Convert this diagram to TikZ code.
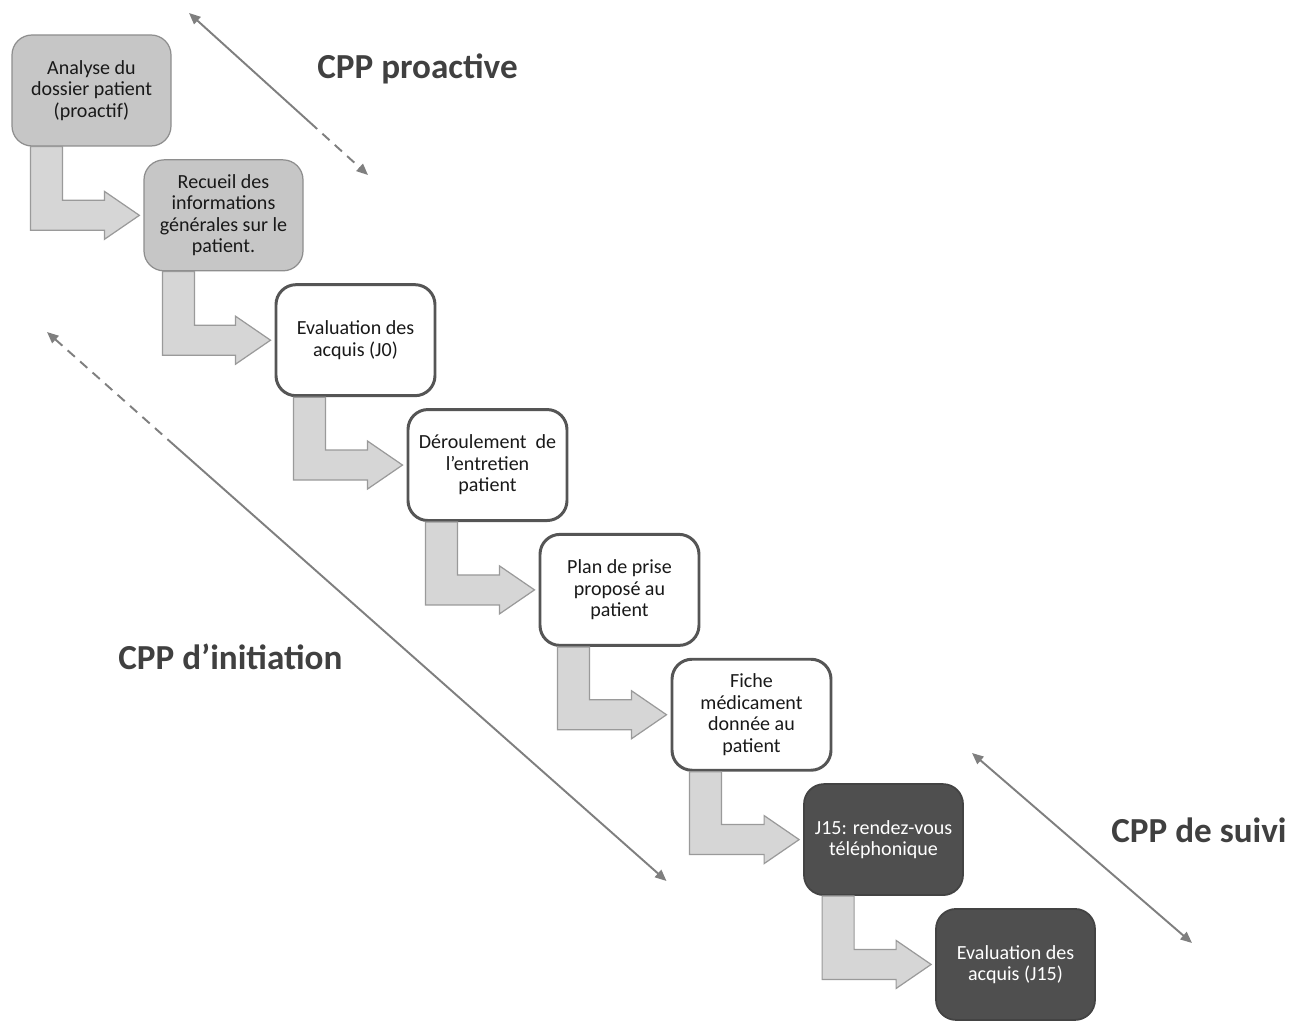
\documentclass[tikz,border=0pt]{standalone}
\usepackage{fontspec}
\setmainfont{Carlito}
\usetikzlibrary{arrows.meta,positioning,calc}
\definecolor{boxgray}{HTML}{C6C6C6}
\definecolor{boxline}{HTML}{8E8E8E}
\definecolor{darkline}{HTML}{555555}
\definecolor{darkfill}{HTML}{4F4F4F}
\definecolor{arrowfill}{HTML}{D6D6D6}
\definecolor{arrowline}{HTML}{9A9A9A}
\definecolor{spanline}{HTML}{7F7F7F}
\definecolor{labeltext}{HTML}{404040}
\tikzset{
  etape/.style={rectangle,rounded corners=0.4cm,minimum width=3.18cm,minimum height=2.22cm,
    align=center,inner sep=2pt,font=\fontsize{11.4}{12.2}\selectfont,text=black!90},
  proactif/.style={etape,fill=boxgray,draw=boxline,line width=0.7pt},
  initiation/.style={etape,fill=white,draw=darkline,line width=1.7pt},
  suivi/.style={etape,fill=darkfill,draw=darkfill!85!black,line width=1pt,text=white},
  fleche/.style={fill=arrowfill,draw=arrowline,line width=0.7pt},
  duree/.style={draw=spanline,line width=1.1pt},
  titre/.style={anchor=base west,inner sep=0pt,font=\bfseries\fontsize{20}{24}\selectfont,text=labeltext}
}
% bent block arrow from under one step to the next step
\newcommand{\bentarrow}[2]{%
  \draw[fleche] let \p1=(#1.south west), \p2=(#2.west) in
    (\x1+0.38cm,\y1) -- (\x1+1.02cm,\y1) -- (\x1+1.02cm,\y2+0.3cm)
    -- (\x2-0.78cm,\y2+0.3cm) -- (\x2-0.78cm,\y2+0.48cm) -- (\x2-0.08cm,\y2)
    -- (\x2-0.78cm,\y2-0.48cm) -- (\x2-0.78cm,\y2-0.3cm) -- (\x1+0.38cm,\y2-0.3cm) -- cycle;}

\begin{document}
\begin{tikzpicture}[node distance=2.497cm and 2.64cm,on grid]
   \useasboundingbox (0,0) rectangle (26.08,-20.42);
   \node[proactif] (s_1) at (1.83,-1.81) {Analyse du\\dossier patient\\(proactif)};
   \node[proactif] (s_2) [below right=of s_1] {Recueil des\\informations\\générales sur le\\patient.};
   \node[initiation] (s_3) [below right=of s_2] {Evaluation des\\acquis (J0)};
   \node[initiation] (s_4) [below right=of s_3] {Déroulement\ \ de\\l’entretien\\patient};
   \node[initiation] (s_5) [below right=of s_4] {Plan de prise\\proposé au\\patient};
   \node[initiation] (s_6) [below right=of s_5] {Fiche\\médicament\\donnée au\\patient};
   \node[suivi] (s_7) [below right=of s_6] {J15: rendez-vous\\téléphonique};
   \node[suivi] (s_8) [below right=of s_7] {Evaluation des\\acquis (J15)};
   \foreach \a/\b in {1/2,2/3,3/4,4/5,5/6,6/7,7/8}
     \bentarrow{s_\a}{s_\b};

   % phases
   \coordinate (pro_a) at (3.78,-0.26);
   \coordinate (pro_m) at (6.20,-2.45);
   \coordinate (pro_b) at (7.36,-3.50);
   \coordinate (ini_a) at (0.94,-6.64);
   \coordinate (ini_m) at (3.40,-8.83);
   \coordinate (ini_b) at (13.33,-17.62);
   \coordinate (sui_a) at (19.44,-15.06);
   \coordinate (sui_b) at (23.84,-18.86);
   \draw[duree,{Triangle[length=6.5pt,width=5.5pt]}-] (pro_a) -- (pro_m);
   \draw[duree,dash pattern=on 5.5pt off 4pt,-{Triangle[length=6.5pt,width=5.5pt]}] (pro_m) -- (pro_b);
   \draw[duree,dash pattern=on 5.5pt off 4pt,{Triangle[length=6.5pt,width=5.5pt]}-] (ini_a) -- (ini_m);
   \draw[duree,-{Triangle[length=6.5pt,width=5.5pt]}] (ini_m) -- (ini_b);
   \draw[duree,{Triangle[length=6.5pt,width=5.5pt]}-{Triangle[length=6.5pt,width=5.5pt]}] (sui_a) -- (sui_b);

   \node[titre] (t_pro) at (6.34,-1.566) {CPP proactive};
   \node[titre] (t_ini) at (2.36,-13.386) {CPP d’initiation};
   \node[titre] (t_sui) at (22.22,-16.854) {CPP de suivi};
\end{tikzpicture}
\end{document}
